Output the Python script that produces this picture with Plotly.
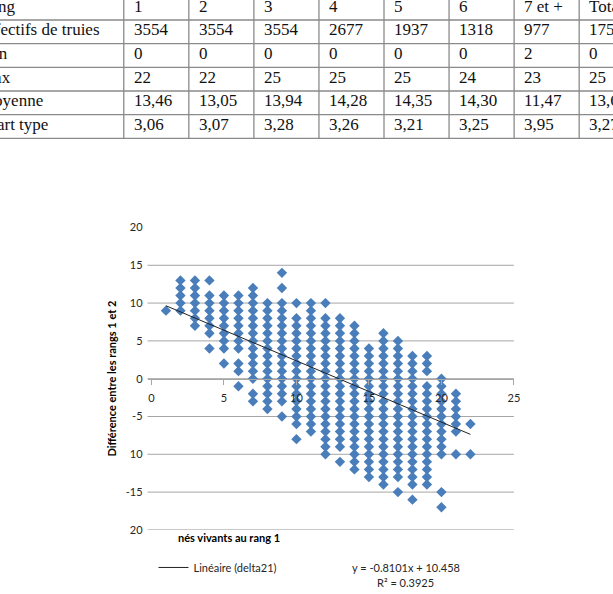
import plotly.graph_objects as go

W, H = 613, 594

# ---------------- table (top of the page) ----------------
row_labels = ["Rang", "Effectifs de truies", "Min", "Max", "Moyenne", "Écart type"]
rangs = ["1", "2", "3", "4", "5", "6", "7 et +", "Total"]
effectifs = ["3554", "3554", "3554", "2677", "1937", "1318", "977", "17571"]
minimums = ["0", "0", "0", "0", "0", "0", "2", "0"]
maximums = ["22", "22", "25", "25", "25", "24", "23", "25"]
moyennes = ["13,46", "13,05", "13,94", "14,28", "14,35", "14,30", "11,47", "13,65"]
ecarts = ["3,06", "3,07", "3,28", "3,26", "3,21", "3,25", "3,95", "3,27"]
table_rows = [rangs, effectifs, minimums, maximums, moyennes, ecarts]

# ---------------- scatter data ----------------
# nés vivants au rang 1 (x) -> différences observées entre rangs 1 et 2 (y)
col_1 = [9]
col_2 = [13, 12, 11, 10, 9]
col_3 = [13, 12, 11, 10, 9, 8, 7]
col_4 = [13, 11, 10, 9, 8, 7, 6, 4]
col_5 = [11, 10, 9, 8, 7, 6, 5, 4, 2]
col_6 = [11, 10, 9, 8, 7, 6, 5, 4, 2, 1, -1]
col_7 = [12, 11, 10, 9, 8, 7, 6, 5, 4, 3, 2, 1, 0, -2, -3]
col_8 = [10, 9, 8, 7, 6, 5, 4, 3, 2, 1, 0, -1, -2, -3, -4]
col_9 = [14, 12, 10, 9, 8, 7, 6, 5, 4, 3, 2, 1, 0, -1, -2, -3, -5]
col_10 = [10, 8, 7, 6, 5, 4, 3, 2, 1, 0, -1, -2, -3, -4, -5, -6, -8]
col_11 = [10, 9, 8, 7, 6, 5, 4, 3, 2, 1, 0, -1, -2, -3, -4, -5, -6, -7]
col_12 = [10, 8, 7, 6, 5, 4, 3, 2, 1, 0, -1, -2, -3, -4, -5, -6, -7, -8, -9, -10]
col_13 = [8, 7, 6, 5, 4, 3, 2, 1, 0, -1, -2, -3, -4, -5, -6, -7, -8, -9, -11]
col_14 = [7, 6, 5, 4, 3, 2, 1, 0, -1, -2, -3, -4, -5, -6, -7, -8, -9, -10, -11, -12]
col_15 = [4, 3, 2, 1, 0, -1, -2, -3, -4, -5, -6, -7, -8, -9, -10, -11, -12, -13]
col_16 = [6, 5, 4, 3, 2, 1, 0, -1, -2, -3, -4, -5, -6, -7, -8, -9, -10, -11, -12, -13, -14]
col_17 = [5, 4, 3, 2, 1, 0, -1, -2, -3, -4, -5, -6, -7, -8, -9, -10, -11, -12, -13, -15]
col_18 = [3, 2, 1, 0, -1, -2, -3, -4, -5, -6, -7, -8, -9, -10, -11, -12, -13, -14, -16]
col_19 = [3, 2, 1, -1, -2, -3, -4, -5, -6, -7, -8, -9, -10, -11, -12, -13, -14]
col_20 = [0, -1, -2, -3, -4, -5, -6, -7, -8, -9, -10, -15, -17]
col_21 = [-2, -3, -4, -5, -6, -7, -10]
col_22 = [-6, -10]
columns = [col_1, col_2, col_3, col_4, col_5, col_6, col_7, col_8, col_9, col_10, col_11,
           col_12, col_13, col_14, col_15, col_16, col_17, col_18, col_19, col_20, col_21, col_22]
nes_vivants = list(range(1, len(columns) + 1))

trend_slope = -0.8101
trend_intercept = 10.458
trend_r2 = 0.3925

x_ticks = [0, 5, 10, 15, 20, 25]
y_ticks = [-20, -15, -10, -5, 0, 5, 10, 15, 20]
y_ticktext = ["20", "-15", "10", "-5", "0", "5", "10", "15", "20"]
grid_vals = [-20, -15, -10, -5, 0, 5, 10, 15]

xs, ys = [], []
for xv, col in zip(nes_vivants, columns):
    for yv in col:
        xs.append(xv)
        ys.append(yv)

x_min, x_max = min(xs), max(xs)
trend_x = [x_min, x_max]
trend_y = [trend_slope * v + trend_intercept for v in trend_x]


def pxx(p):
    return p / W


def pxy(p):
    return 1 - p / H


BLUE = "#4A7EBB"
GRID = "#A6A6A6"
CH_FONT = "Lato, 'Liberation Sans', sans-serif"
TXT = "#262626"

fig = go.Figure()
fig.add_trace(go.Scatter(
    x=xs, y=ys, mode="markers", showlegend=False,
    marker=dict(symbol="diamond", size=8, color=BLUE, line=dict(width=0)),
    name="delta21",
))
fig.add_trace(go.Scatter(
    x=trend_x, y=trend_y, mode="lines", name="Linéaire (delta21)",
    line=dict(color="#222222", width=1), showlegend=True,
))

ydom = [pxy(534.6), pxy(225.4)]
xdom = [pxx(149), pxx(519)]
y_range = [-20, 20]
zero_pos = ydom[0] + (0 - y_range[0]) / (y_range[1] - y_range[0]) * (ydom[1] - ydom[0])

shapes = []
# horizontal gridlines of the chart
for g in grid_vals:
    shapes.append(dict(type="line", xref="paper", yref="y", x0=xdom[0], x1=xdom[1],
                       y0=g, y1=g, line=dict(color=GRID, width=1), layer="below"))

# table grid
col_left0 = 125.0
col_w = 65.7
row_top0 = 13.3
row_h = 24.2
n_rows = len(row_labels)
n_cols = len(rangs)
table_bottom = row_top0 + row_h * (n_rows - 1)
for k in range(n_rows):
    yy = row_top0 + row_h * k
    shapes.append(dict(type="line", xref="paper", yref="paper", x0=-0.1, x1=1.1,
                       y0=pxy(yy), y1=pxy(yy), line=dict(color="#8a8a8a", width=1.3)))
for c in range(n_cols):
    xx = col_left0 + col_w * c
    shapes.append(dict(type="line", xref="paper", yref="paper", x0=pxx(xx), x1=pxx(xx),
                       y0=pxy(-10), y1=pxy(table_bottom), line=dict(color="#8a8a8a", width=1.3)))

annotations = []
TFONT = dict(family="'Liberation Serif', 'Times New Roman', serif", size=17, color="#111111")
for r in range(n_rows):
    yc = -0.9 + row_h * r
    annotations.append(dict(xref="paper", yref="paper", x=pxx(-23), y=pxy(yc), text=row_labels[r],
                            showarrow=False, xanchor="left", yanchor="middle", font=TFONT))
    for c in range(n_cols):
        annotations.append(dict(xref="paper", yref="paper", x=pxx(col_left0 + col_w * c + 8),
                                y=pxy(yc), text=table_rows[r][c], showarrow=False,
                                xanchor="left", yanchor="middle", font=TFONT))

# chart titles and trendline equation
annotations.append(dict(xref="paper", yref="paper", x=pxx(113), y=(ydom[0] + ydom[1]) / 2,
                        text="<b>Différence entre les rangs 1 et 2</b>", textangle=-90,
                        showarrow=False, xanchor="center", yanchor="middle",
                        font=dict(family=CH_FONT, size=11, color="#000")))
annotations.append(dict(xref="paper", yref="paper", x=pxx(178), y=pxy(542),
                        text="<b>nés vivants au rang 1</b>", showarrow=False,
                        xanchor="left", yanchor="middle",
                        font=dict(family=CH_FONT, size=11, color="#000")))
eq_text = "y = {:.4f}x + {:.3f}".format(trend_slope, trend_intercept)
r2_text = "R² = {:.4f}".format(trend_r2)
annotations.append(dict(xref="paper", yref="paper", x=pxx(410), y=pxy(573), text=eq_text,
                        showarrow=False, xanchor="center", yanchor="middle",
                        font=dict(family=CH_FONT, size=11, color=TXT)))
annotations.append(dict(xref="paper", yref="paper", x=pxx(410), y=pxy(588), text=r2_text,
                        showarrow=False, xanchor="center", yanchor="middle",
                        font=dict(family=CH_FONT, size=11, color=TXT)))

fig.update_layout(
    width=W, height=H, margin=dict(l=0, r=0, t=0, b=0),
    paper_bgcolor="white", plot_bgcolor="rgba(0,0,0,0)",
    xaxis=dict(domain=xdom, range=[-0.27, 25], anchor="free", position=zero_pos,
               tickvals=x_ticks, showgrid=False, zeroline=False, showline=True,
               linecolor=GRID, linewidth=1, ticks="outside", ticklen=5, tickcolor=GRID,
               ticklabelstandoff=4,
               tickfont=dict(family=CH_FONT, size=11, color=TXT)),
    yaxis=dict(domain=ydom, range=y_range, tickvals=y_ticks, ticktext=y_ticktext,
               showgrid=False, zeroline=False, showline=False, ticks="",
               ticklabelstandoff=4,
               tickfont=dict(family=CH_FONT, size=11, color=TXT)),
    shapes=shapes, annotations=annotations,
    showlegend=True,
    legend=dict(orientation="h", x=pxx(155), y=pxy(573), xanchor="left", yanchor="middle",
                bgcolor="rgba(0,0,0,0)", itemwidth=30,
                font=dict(family=CH_FONT, size=11, color=TXT)),
)

fig.write_html("out.html")
